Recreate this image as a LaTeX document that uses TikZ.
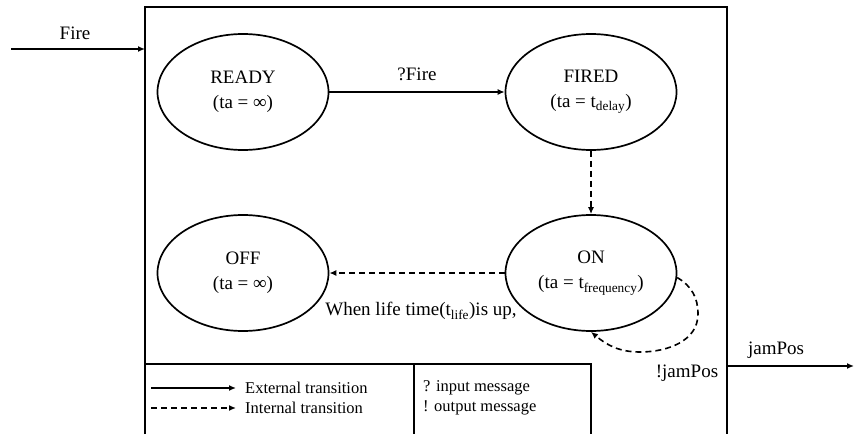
\documentclass[tikz,border=0pt]{standalone}
\usepackage{fontspec}
\setmainfont{Liberation Serif}
\usetikzlibrary{arrows.meta,shapes.geometric}
\begin{document}
\begin{tikzpicture}[x=1pt,y=-1pt,
  state/.style={draw,line width=1.7pt,ellipse,minimum width=171pt,minimum height=116pt,inner sep=0pt,align=center,font=\fontsize{19}{25}\selectfont},
  lbl/.style={font=\fontsize{19}{22}\selectfont,inner sep=0pt},
  leg/.style={font=\fontsize{16.5}{20}\selectfont,inner sep=0pt,anchor=west},
  ext/.style={line width=1.6pt,-{Latex[length=7pt,width=6pt]}},
  int/.style={ext,dash pattern=on 6pt off 4pt},
  frame/.style={line width=1.8pt}]
\useasboundingbox (0,0) rectangle (854,434);

% frame and legend
\draw[frame] (145,434) -- (145,7) -- (727,7) -- (727,434);
\draw[frame] (145,364) -- (591,364) -- (591,434);
\draw[frame] (414,364) -- (414,434);

% states
\node[state] (READY) at (243,92) {READY\\(ta = ∞)};
\node[state] (FIRED) at (591,92) {FIRED\\(ta = t\textsubscript{delay})};
\node[state] (ON) at (591,273) {ON\\(ta = t\textsubscript{frequency})};
\node[state] (OFF) at (243,273) {OFF\\(ta = ∞)};

% external ports
\coordinate (firein) at (11,49);
\coordinate (boxin) at (145,49);
\coordinate (boxout) at (727,366);
\coordinate (jamout) at (854,366);
\draw[ext] (firein) -- (boxin);
\node[lbl] (firelbl) at (75,33) {Fire};
\draw[ext] (boxout) -- (jamout);
\node[lbl] (jamlbl) at (776,350) {jamPos};

% transitions
\draw[ext] (READY) -- node[lbl,above=10pt] (qfire) {?Fire} (FIRED);
\draw[int] (FIRED) -- (ON);
\draw[int] (ON) -- (OFF);
\node[lbl] (lifelbl) at (421,311) {When life time(t\textsubscript{life})is up,};
\coordinate (l1) at (698,314);
\coordinate (l2) at (640,352);
\draw[int] (ON.-3) to[out=-30,in=90] (l1) to[out=-90,in=0] (l2) to[out=180,in=-40] (ON.south);
\node[lbl] (outlbl) at (687,373) {!jamPos};

% legend
\coordinate (e1) at (151,388);
\coordinate (e2) at (236,388);
\coordinate (i1) at (151,408);
\coordinate (i2) at (236,408);
\draw[ext] (e1) -- (e2);
\draw[int] (i1) -- (i2);
\node[leg] (lext) at (245,388) {External transition};
\node[leg] (lint) at (245,408) {Internal transition};
\node[leg] (lin) at (423,388) {? input message};
\node[leg] (lout) at (423,408) {! output message};
\end{tikzpicture}
\end{document}
